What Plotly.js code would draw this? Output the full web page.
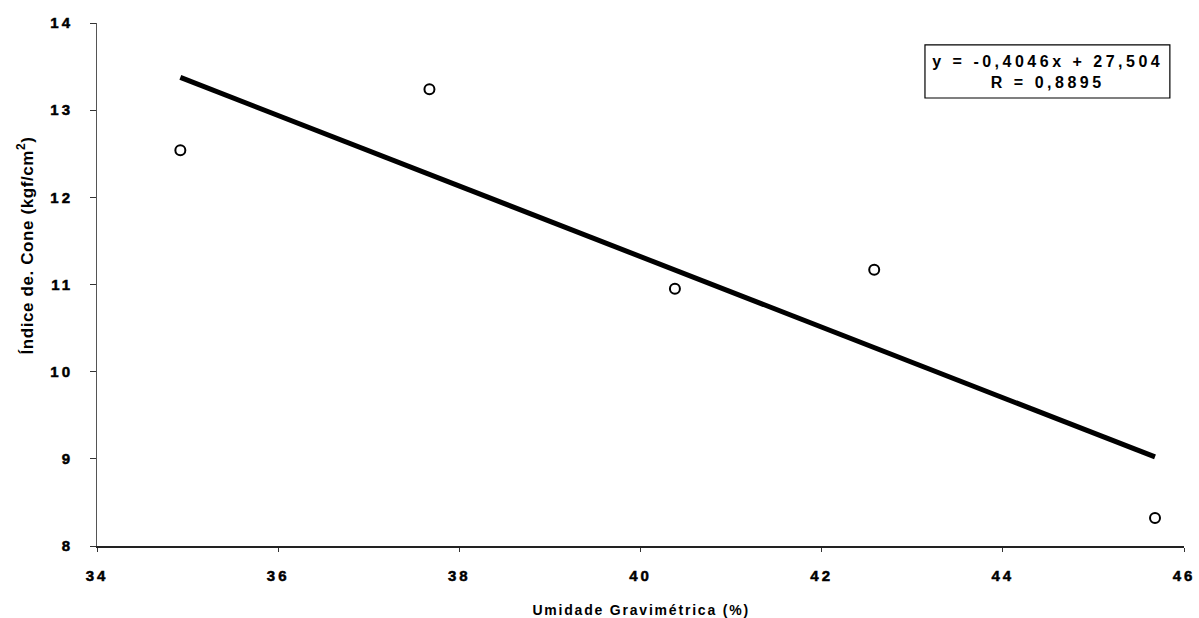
<!DOCTYPE html>
<html>
<head>
<meta charset="utf-8">
<script src="https://cdn.plot.ly/plotly-3.0.1.min.js"></script>
<style>
  html, body { margin: 0; padding: 0; background: #fff; }
  #chart { width: 1199px; height: 618px; }
  .xtick text, .ytick text {
    letter-spacing: 3px; font-weight: bold !important;
    stroke: #000; stroke-width: 0.5px;
  }
  .annotation.eq .annotation-text { letter-spacing: 3.5px; }
  .annotation.xt .annotation-text { letter-spacing: 1.8px; }
  .annotation.yt .annotation-text { letter-spacing: 0.6px; }
</style>
</head>
<body>
<div id="chart"></div>
<script>
// Umidade gravimétrica (%) vs. índice de cone (kgf/cm²)
const umidade = [34.92, 37.67, 40.38, 42.58, 45.68];
const indiceCone = [12.54, 13.24, 10.95, 11.17, 8.32];

// Regression line as reported: y = -0,4046x + 27,504 ; R = 0,8895
const slope = -0.4046;
const intercept = 27.504;
const rValue = 0.8895;

const xTicks = [34, 36, 38, 40, 42, 44, 46];
const yTicks = [8, 9, 10, 11, 12, 13, 14];

const xTitle = 'Umidade Gravimétrica (%)';
const yTitle = 'Índice de. Cone (kgf/cm<sup>2</sup>)';

const fmt = (v, d) => v.toFixed(d).replace('.', ',');

const xMin = Math.min(...umidade);
const xMax = Math.max(...umidade);
const fitX = [xMin, xMax];
const fitY = fitX.map(x => slope * x + intercept);

const fam = 'Liberation Sans, Arial, sans-serif';

const traces = [
  {
    x: fitX, y: fitY, type: 'scatter', mode: 'lines',
    line: { color: '#000', width: 5 },
    hoverinfo: 'skip', showlegend: false
  },
  {
    x: umidade, y: indiceCone, type: 'scatter', mode: 'markers',
    marker: { symbol: 'circle-open', size: 10, color: '#000', line: { width: 2, color: '#000' } },
    showlegend: false
  }
];

const layout = {
  width: 1199, height: 618,
  margin: { l: 97, r: 15, t: 23, b: 72 },
  paper_bgcolor: '#fff', plot_bgcolor: '#fff',
  font: { family: fam, color: '#000' },
  xaxis: {
    range: [34, 46], tickvals: xTicks, ticktext: xTicks.map(v => '<b>' + v + '</b>'),
    showgrid: false, zeroline: false,
    showline: true, linecolor: '#222', linewidth: 1.5,
    ticks: 'outside', ticklen: 4, tickwidth: 1, tickcolor: '#333',
    ticklabelstandoff: 11,
    tickfont: { family: fam, size: 15, color: '#000', weight: 'bold' }
  },
  yaxis: {
    range: [8, 14], tickvals: yTicks, ticktext: yTicks.map(v => '<b>' + v + '</b>'),
    showgrid: false, zeroline: false,
    showline: true, linecolor: '#555', linewidth: 1,
    ticks: 'outside', ticklen: 6, tickwidth: 1, tickcolor: '#333',
    ticklabelstandoff: 14,
    tickfont: { family: fam, size: 15, color: '#000', weight: 'bold' }
  },
  shapes: [
    // frame around the regression equation
    {
      type: 'rect', xref: 'paper', yref: 'paper',
      x0: 0.7617, x1: 0.987, y0: 0.8566, y1: 0.958,
      line: { color: '#000', width: 1.2 }, fillcolor: 'rgba(0,0,0,0)'
    }
  ],
  annotations: [
    {
      name: 'eq', xref: 'paper', yref: 'paper', x: 0.8745, y: 0.907,
      xanchor: 'center', yanchor: 'middle',
      text: '<b>y = ' + fmt(slope, 4) + 'x + ' + fmt(intercept, 3) + '</b><br><b>R = ' + fmt(rValue, 4) + '</b>',
      showarrow: false, align: 'center',
      font: { family: fam, size: 16, color: '#000' }
    },
    {
      name: 'xt', xref: 'paper', yref: 'paper', x: 0.5, y: -0.1224,
      xanchor: 'center', yanchor: 'middle',
      text: '<b>' + xTitle + '</b>', showarrow: false,
      font: { family: fam, size: 14, color: '#000' }
    },
    {
      name: 'yt', xref: 'paper', yref: 'paper', x: -0.066, y: 0.574,
      xanchor: 'center', yanchor: 'middle', textangle: -90,
      text: '<b>' + yTitle + '</b>', showarrow: false,
      font: { family: fam, size: 17, color: '#000' }
    }
  ]
};

Plotly.newPlot('chart', traces, layout, { displayModeBar: false, staticPlot: true }).then(gd => {
  // tag annotation groups so letter-spacing can be applied per label
  const groups = gd.querySelectorAll('.annotation');
  layout.annotations.forEach((a, i) => { if (groups[i]) groups[i].classList.add(a.name); });
});
</script>
</body>
</html>
